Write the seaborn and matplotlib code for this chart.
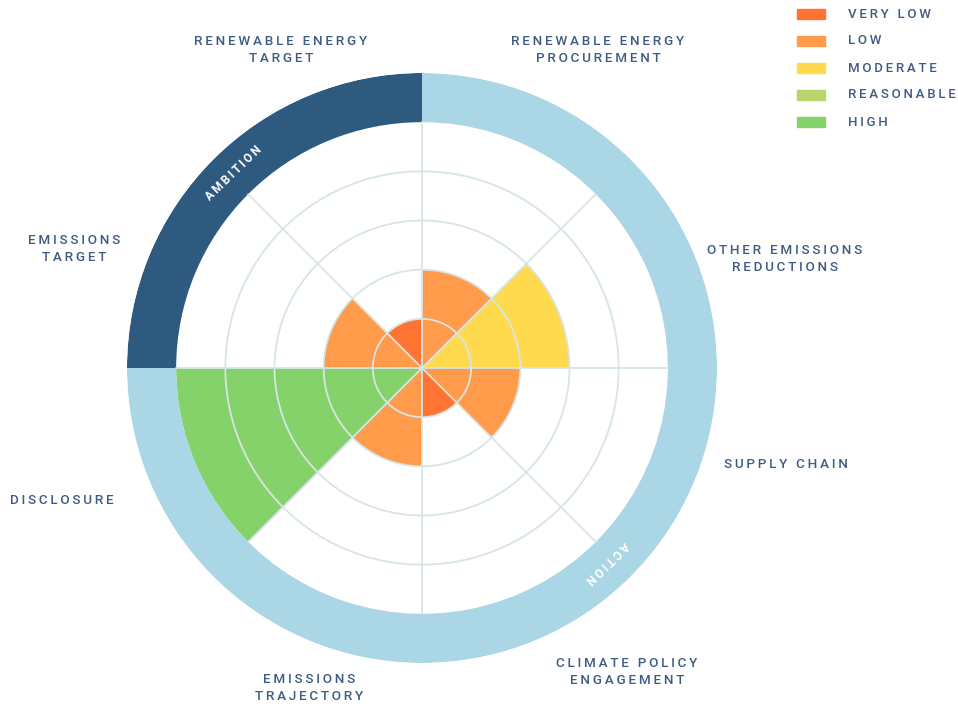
import numpy as np
import pandas as pd
import matplotlib
matplotlib.use("Agg")
import matplotlib.pyplot as plt
from matplotlib.patches import Rectangle
import seaborn as sns

# ---------------- data ----------------
categories = ["RENEWABLE ENERGY\nPROCUREMENT", "OTHER EMISSIONS\nREDUCTIONS", "SUPPLY CHAIN",
              "CLIMATE POLICY\nENGAGEMENT", "EMISSIONS\nTRAJECTORY", "DISCLOSURE",
              "EMISSIONS\nTARGET", "RENEWABLE ENERGY\nTARGET"]
scores = [2, 3, 2, 1, 2, 5, 2, 1]          # 1 = very low ... 5 = high
levels = ["VERY LOW", "LOW", "MODERATE", "REASONABLE", "HIGH"]
level_colors = ["#FF7433", "#FF9B4B", "#FFDA4F", "#B8D56C", "#86D26A"]
groups = ["ACTION", "AMBITION"]
group_members = [6, 2]                     # number of categories in each group
group_colors = ["#AAD6E5", "#2F5A80"]

TEXT = "#3E5C82"
GRID = "#D6E5E5"

sns.set_theme(style="white")
plt.rcParams["font.family"] = ["Roboto", "DejaVu Sans"]


def spaced(s):
    return "\n".join("\u2009".join(list(line)) for line in s.split("\n"))


df = pd.DataFrame({"category": categories, "score": scores})
n = len(df)
width = 2 * np.pi / n
df["theta"] = np.arange(n) * width + width / 2
pal = dict(zip(range(1, 6), sns.color_palette(level_colors)))
df["color"] = df["score"].map(pal)

fig = plt.figure(figsize=(9.58, 7.07), dpi=100)
ax = fig.add_axes([127 / 958, 44 / 707, 590 / 958, 590 / 707], projection="polar")
ax.set_theta_zero_location("N")
ax.set_theta_direction(-1)
ax.set_ylim(0, 6)
ax.set_axis_off()

# bars
ax.bar(df["theta"], df["score"], width=width, bottom=0, color=df["color"],
       edgecolor="none", align="center", zorder=2)

# outer group ring
start = 0.0
for g, m, c in zip(groups, group_members, group_colors):
    ax.bar(start + m * width / 2, 1, width=m * width, bottom=5, color=c,
           edgecolor="none", align="center", zorder=2)
    start += m * width

# gridlines on top
tt = np.linspace(0, 2 * np.pi, 400)
for r in range(1, 5):
    ax.plot(tt, np.full_like(tt, r), color=GRID, lw=1.3, zorder=3)
for k in range(n):
    ax.plot([k * width, k * width], [0, 5], color=GRID, lw=1.3, zorder=3)

# ring labels
ax.text(np.radians(316), 5.5, spaced("AMBITION"), rotation=44, color="white",
        fontsize=8.5, fontweight="bold", ha="center", va="center",
        rotation_mode="anchor", zorder=4)
ax.text(np.radians(136.5), 5.45, spaced("ACTION"), rotation=224, color="white",
        fontsize=8.5, fontweight="bold", ha="center", va="center",
        rotation_mode="anchor", zorder=4)

# category labels (pixel positions of label centres)
label_pos = [(598, 50), (785, 259), (786, 465), (627, 672), (309, 688),
             (62, 500), (74, 249), (281, 50)]
for cat, (px, py) in zip(df["category"], label_pos):
    fig.text(px / 958, 1 - py / 707, spaced(cat), color=TEXT, fontsize=9.7,
             fontweight="medium", ha="center", va="center", linespacing=1.4)

# legend
for i, (lab, col) in enumerate(zip(levels, level_colors)):
    y = 14 + 27 * i
    fig.patches.append(Rectangle((797 / 958, 1 - (y + 5) / 707), 28 / 958, 10 / 707,
                                 transform=fig.transFigure, color=col, figure=fig))
    fig.text(848 / 958, 1 - y / 707, spaced(lab), color=TEXT, fontsize=9.5,
             fontweight="medium", ha="left", va="center")

fig.savefig("out.png", dpi=100, facecolor="white")
